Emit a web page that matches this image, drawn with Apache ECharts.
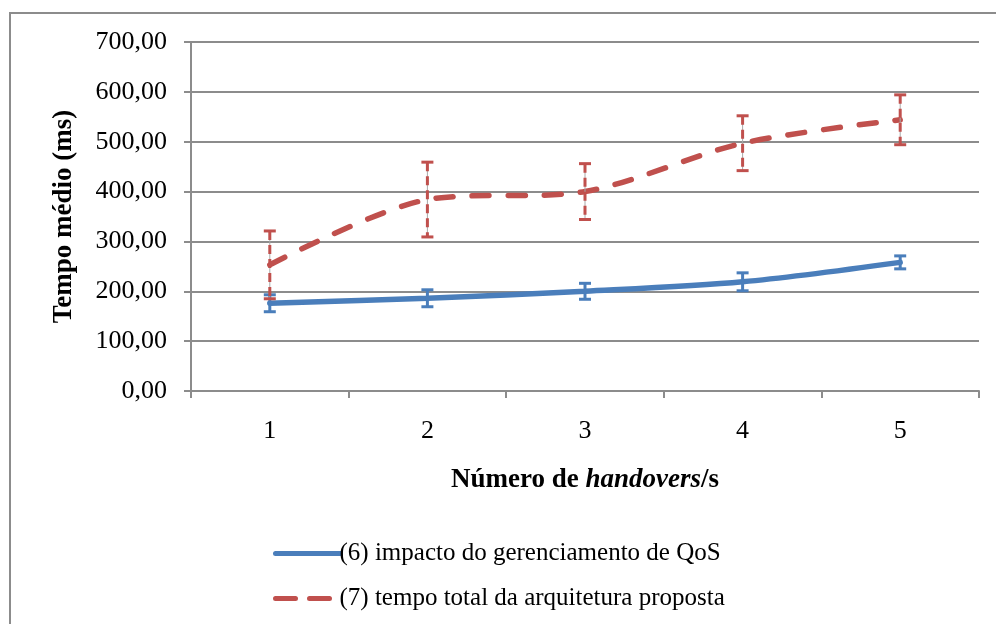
<!DOCTYPE html>
<html>
<head>
<meta charset="utf-8">
<script src="https://cdn.jsdelivr.net/npm/echarts@6/dist/echarts.min.js"></script>
<style>
  html, body { margin: 0; padding: 0; background: #fff; }
  #chart { width: 996px; height: 624px; }
</style>
</head>
<body>
<div id="chart"></div>
<script>
  // dados
  const categories = ['1', '2', '3', '4', '5'];
  const qosValues = [176, 186, 200, 219, 258];
  const qosErr = [17, 17, 16, 18, 13];
  const totalValues = [253, 384, 400, 497, 544];
  const totalErr = [68, 75, 56, 55, 50];
  const yTicks = [0, 100, 200, 300, 400, 500, 600, 700];

  const serif = "'Liberation Serif', 'Times New Roman', serif";
  const blue = '#4a7ebb';
  const red = '#c0504d';
  const qosName = '(6) impacto do gerenciamento de QoS';
  const totalName = '(7) tempo total da arquitetura proposta';

  const chart = echarts.init(document.getElementById('chart'));

  // barras de erro desenhadas com as escalas do próprio eixo
  const errorBars = (values, errs, color, dashed) => ({
    type: 'custom',
    name: 'err',
    z: 5,
    silent: true,
    data: values.map((v, i) => [i, v - errs[i], v + errs[i]]),
    renderItem: function (params, api) {
      const lo = api.coord([api.value(0), api.value(1)]);
      const hi = api.coord([api.value(0), api.value(2)]);
      const x = lo[0];
      const half = 6;
      const children = [];
      if (dashed) {
        children.push({
          type: 'line',
          shape: { x1: x, y1: hi[1], x2: x, y2: lo[1] },
          style: { stroke: '#a8a8a8', lineWidth: 1 }
        });
        children.push({
          type: 'line',
          shape: { x1: x, y1: hi[1], x2: x, y2: lo[1] },
          style: { stroke: color, lineWidth: 3, lineDash: [9, 5] }
        });
      } else {
        children.push({
          type: 'line',
          shape: { x1: x, y1: hi[1], x2: x, y2: lo[1] },
          style: { stroke: color, lineWidth: 3 }
        });
      }
      children.push({
        type: 'line',
        shape: { x1: x - half, y1: hi[1], x2: x + half, y2: hi[1] },
        style: { stroke: color, lineWidth: 3 }
      });
      children.push({
        type: 'line',
        shape: { x1: x - half, y1: lo[1], x2: x + half, y2: lo[1] },
        style: { stroke: color, lineWidth: 3 }
      });
      return { type: 'group', children: children };
    }
  });

  chart.setOption({
    animation: false,
    textStyle: { fontFamily: serif },
    graphic: [{
      type: 'rect',
      shape: { x: 10, y: 13, width: 1100, height: 800 },
      style: { fill: 'none', stroke: '#8c8c8c', lineWidth: 2 },
      z: -1
    }],
    grid: { left: 191, right: 17, top: 42, bottom: 233 },
    legend: {
      orient: 'vertical',
      left: 268,
      top: 536,
      itemGap: 20,
      itemWidth: 65,
      itemHeight: 14,
      itemStyle: { opacity: 0 },
      lineStyle: { width: 5, cap: 'round' },
      data: [
        { name: qosName },
        { name: totalName, lineStyle: { type: [20, 14], width: 5, cap: 'round' } }
      ],
      textStyle: { fontFamily: serif, fontSize: 25, color: '#000', padding: [0, 0, 0, -6] }
    },
    xAxis: {
      type: 'category',
      data: categories,
      boundaryGap: true,
      axisLine: { lineStyle: { color: '#8c8c8c', width: 2 } },
      axisTick: { show: true, length: 7, lineStyle: { color: '#8c8c8c', width: 2 } },
      axisLabel: { color: '#000', fontSize: 26, fontFamily: serif, margin: 27 },
      name: '{b|Número de }{i|handovers}{b|/s}',
      nameLocation: 'middle',
      nameGap: 76,
      nameTextStyle: {
        rich: {
          b: { fontFamily: serif, fontSize: 27, fontWeight: 'bold', color: '#000' },
          i: { fontFamily: serif, fontSize: 27, fontWeight: 'bold', fontStyle: 'italic', color: '#000' }
        }
      }
    },
    yAxis: {
      type: 'value',
      min: 0,
      max: 700,
      interval: 100,
      axisLine: { show: true, lineStyle: { color: '#8c8c8c', width: 2 } },
      axisTick: { show: true, length: 7, lineStyle: { color: '#8c8c8c', width: 2 } },
      splitLine: { lineStyle: { color: '#8c8c8c', width: 2 } },
      axisLabel: {
        color: '#000', fontSize: 26, fontFamily: serif, margin: 24,
        formatter: v => yTicks.includes(v) ? v.toFixed(2).replace('.', ',') : ''
      },
      name: 'Tempo médio (ms)',
      nameLocation: 'middle',
      nameGap: 113,
      nameTextStyle: { fontFamily: serif, fontSize: 27, fontWeight: 'bold', color: '#000' }
    },
    series: [
      {
        name: qosName,
        type: 'line',
        data: qosValues,
        smooth: 0.3,
        showSymbol: false,
        symbol: 'none',
        z: 4,
        lineStyle: { color: blue, width: 5.5, cap: 'round' },
        itemStyle: { color: blue }
      },
      {
        name: totalName,
        type: 'line',
        data: totalValues,
        smooth: 0.3,
        showSymbol: false,
        symbol: 'none',
        z: 4,
        lineStyle: { color: red, width: 5.5, type: [17, 19], cap: 'round' },
        itemStyle: { color: red }
      },
      errorBars(qosValues, qosErr, blue, false),
      errorBars(totalValues, totalErr, red, true)
    ]
  });
</script>
</body>
</html>
